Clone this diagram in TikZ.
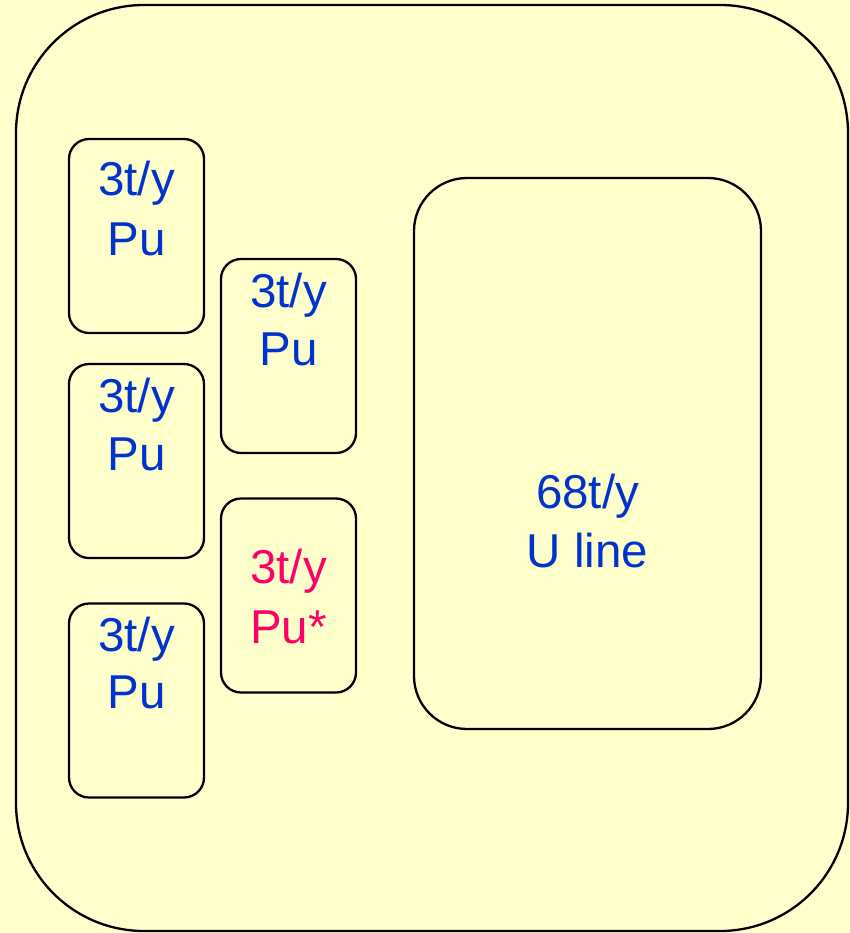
\documentclass[tikz,border=0pt]{standalone}
\usepackage{fontspec}
\setmainfont{Liberation Sans}
\definecolor{paper}{HTML}{FFFFCC}
\definecolor{ink}{HTML}{0033CC}
\definecolor{hot}{HTML}{FF0066}
\begin{document}
\begin{tikzpicture}[x=1pt,y=-1pt,
  frame/.style={draw=black,line width=2.3pt,rounded corners=#1,inner sep=0pt,outer sep=0pt},
  unitbox/.style={frame=20pt,minimum width=135pt,minimum height=194pt},
  rate/.style={anchor=base,inner sep=0pt,font=\fontsize{47.5}{55}\selectfont,text=ink},
  hotrate/.style={rate,text=hot}]
  % page and outer plant boundary
  \fill[paper] (0,0) rectangle (850,933);
  \useasboundingbox (0,0) rectangle (850,933);
  \draw[line width=2.3pt,rounded corners=128pt] (16,5) rectangle (848,931);

  % production lines
  \node[unitbox] (a) at (136.5,236) {};
  \node[unitbox] (b) at (136.5,461) {};
  \node[unitbox] (c) at (136.5,700.5) {};
  \node[unitbox] (d) at (288.5,356) {};
  \node[unitbox] (e) at (288.5,595.5) {};
  \node[frame=53pt,minimum width=347pt,minimum height=551pt] (u) at (587.5,453.5) {};

  % capacities
  \node[rate] (a1) at (136.5,196) {3t/y};
  \node[rate] (a2) at (136.5,255) {Pu};
  \node[rate] (b1) at (136.5,412) {3t/y};
  \node[rate] (b2) at (136.5,470) {Pu};
  \node[rate] (c1) at (136.5,651) {3t/y};
  \node[rate] (c2) at (136.5,708) {Pu};
  \node[rate] (d1) at (288.5,307) {3t/y};
  \node[rate] (d2) at (288.5,365) {Pu};
  \node[hotrate] (e1) at (288.5,583) {3t/y};
  \node[hotrate] (e2) at (288.5,643) {Pu*};
  \node[rate] (u1) at (587.5,508) {68t/y};
  \node[rate] (u2) at (587.5,567) {U line};
\end{tikzpicture}
\end{document}
